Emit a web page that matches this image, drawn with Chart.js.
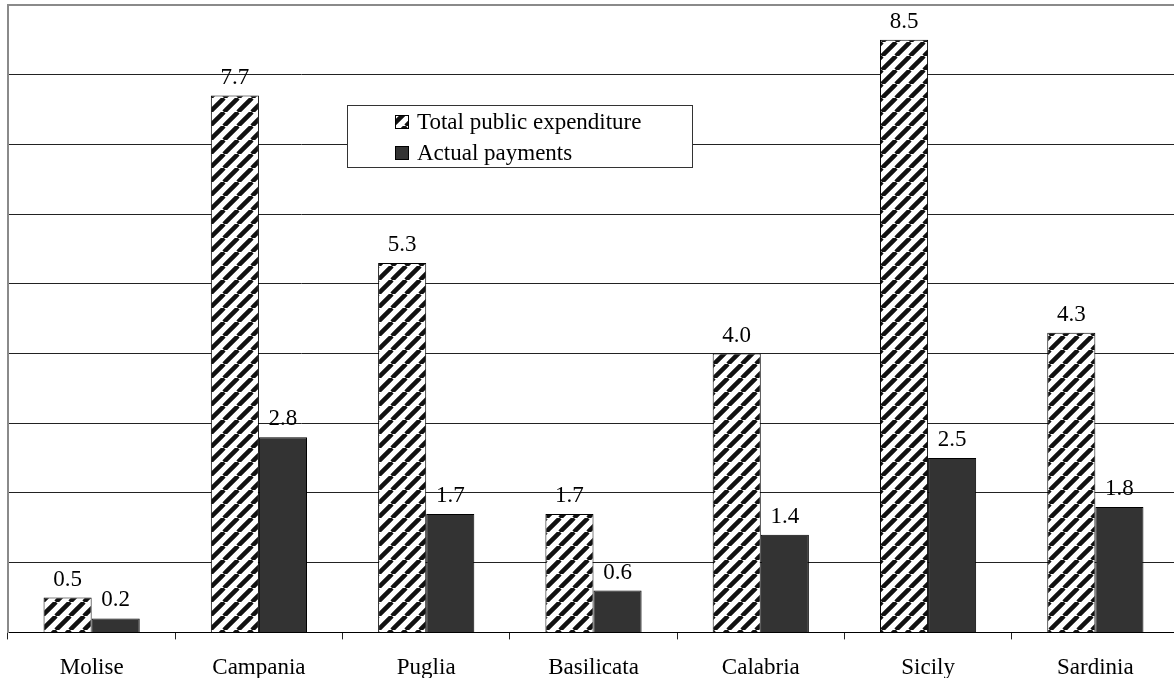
<!DOCTYPE html>
<html>
<head>
<meta charset="utf-8">
<script src="https://cdn.jsdelivr.net/npm/chart.js@4/dist/chart.umd.min.js"></script>
<style>
    html, body { margin: 0; padding: 0; background: #fff; overflow: hidden; }
    #wrap { position: relative; width: 1180px; height: 697px; }
</style>
</head>
<body>
<div id="wrap"><canvas id="regionChart"></canvas></div>
<script>
// Chart data
const regions = ['Molise', 'Campania', 'Puglia', 'Basilicata', 'Calabria', 'Sicily', 'Sardinia'];
const totalExpenditure = [0.5, 7.7, 5.3, 1.7, 4.0, 8.5, 4.3];
const actualPayments = [0.2, 2.8, 1.7, 0.6, 1.4, 2.5, 1.8];
const seriesNames = ['Total public expenditure', 'Actual payments'];
const yTicks = [0, 1, 2, 3, 4, 5, 6, 7, 8, 9];

const serif = "'Liberation Serif', 'Times New Roman', serif";
const fontSize = 23;

// diagonal hatch used for the first series
function makeHatch() {
    const size = 14;
    const c = document.createElement('canvas');
    c.width = size;
    c.height = size;
    const g = c.getContext('2d');
    g.fillStyle = '#fff';
    g.fillRect(0, 0, size, size);
    g.strokeStyle = '#111';
    g.lineWidth = 4.5;
    g.beginPath();
    for (let k = -1; k <= 1; k++) {
        g.moveTo(k * size, size);
        g.lineTo(k * size + size, 0);
    }
    g.stroke();
    return g.createPattern(c, 'repeat');
}

const hatch = makeHatch();

// value labels above each bar
const valueLabels = {
    id: 'valueLabels',
    afterDatasetsDraw(chart) {
        const ctx = chart.ctx;
        ctx.save();
        ctx.font = fontSize + 'px ' + serif;
        ctx.fillStyle = '#000';
        ctx.textAlign = 'center';
        ctx.textBaseline = 'alphabetic';
        chart.data.datasets.forEach((ds, i) => {
            const meta = chart.getDatasetMeta(i);
            meta.data.forEach((bar, j) => {
                ctx.fillText(ds.data[j].toFixed(1), bar.x, bar.y - 12);
            });
        });
        ctx.restore();
    }
};

// boxed legend floating inside the plot
const boxLegend = {
    id: 'boxLegend',
    afterDraw(chart) {
        const ctx = chart.ctx;
        const x0 = 347, y0 = 105, w = 345, h = 62;
        ctx.save();
        ctx.fillStyle = '#fff';
        ctx.fillRect(x0, y0, w, h);
        ctx.strokeStyle = '#333';
        ctx.lineWidth = 1;
        ctx.strokeRect(x0 + 0.5, y0 + 0.5, w, h);
        ctx.font = fontSize + 'px ' + serif;
        ctx.textBaseline = 'alphabetic';
        ctx.textAlign = 'left';
        chart.data.datasets.forEach((ds, i) => {
            const rowY = y0 + 17 + i * 31;
            ctx.fillStyle = ds.backgroundColor;
            ctx.fillRect(395, rowY - 7, 14, 14);
            ctx.strokeStyle = '#000';
            ctx.strokeRect(395.5, rowY - 6.5, 13, 13);
            ctx.fillStyle = '#000';
            ctx.fillText(ds.label, 417, rowY + 7);
        });
        ctx.restore();
    }
};

const ctxChart = document.getElementById('regionChart').getContext('2d');
new Chart(ctxChart, {
    type: 'bar',
    data: {
        labels: regions,
        datasets: [
            {
                label: seriesNames[0],
                data: totalExpenditure,
                backgroundColor: hatch,
                borderColor: '#000',
                borderWidth: 1
            },
            {
                label: seriesNames[1],
                data: actualPayments,
                backgroundColor: '#333333',
                borderColor: '#000',
                borderWidth: 1
            }
        ]
    },
    options: {
        responsive: true,
        maintainAspectRatio: false,
        animation: false,
        datasets: {
            bar: { categoryPercentage: 0.575, barPercentage: 1.0 }
        },
        layout: { padding: { left: 8, top: 5, right: 1, bottom: 0 } },
        scales: {
            x: {
                grid: {
                    offset: true,
                    drawOnChartArea: false,
                    drawTicks: true,
                    tickLength: 7,
                    color: '#222'
                },
                border: { color: '#000', width: 1 },
                ticks: {
                    color: '#000',
                    padding: 15,
                    font: { family: serif, size: fontSize }
                }
            },
            y: {
                min: yTicks[0],
                max: yTicks[yTicks.length - 1],
                afterBuildTicks: axis => {
                    axis.ticks = yTicks.map(v => ({ value: v }));
                },
                ticks: { display: false },
                grid: {
                    drawTicks: false,
                    color: c => c.tick && c.tick.value === 9 ? '#8a8a8a' : '#222',
                    lineWidth: c => c.tick && c.tick.value === 9 ? 2 : 1
                },
                border: { color: '#8a8a8a', width: 2 }
            }
        },
        plugins: {
            legend: { display: false },
            tooltip: { enabled: false }
        }
    },
    plugins: [valueLabels, boxLegend]
});
</script>
</body>
</html>
